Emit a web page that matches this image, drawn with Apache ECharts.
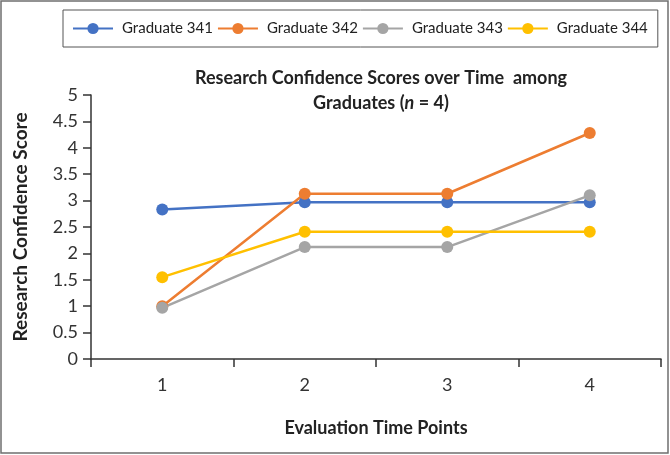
<!DOCTYPE html>
<html><head><meta charset="utf-8">
<script src="https://cdn.jsdelivr.net/npm/echarts@6/dist/echarts.min.js"></script>
<style>html,body{margin:0;padding:0;background:#fff}#c{width:670px;height:455px}</style>
</head><body><div id="c"></div>
<script>
const categories = ['1', '2', '3', '4'];
const grad341 = [2.83, 2.97, 2.97, 2.97];
const grad342 = [1.0, 3.13, 3.13, 4.28];
const grad343 = [0.97, 2.12, 2.12, 3.1];
const grad344 = [1.55, 2.41, 2.41, 2.41];
const seriesNames = ['Graduate 341', 'Graduate 342', 'Graduate 343', 'Graduate 344'];
const colors = ['#4472C4', '#ED7D31', '#A5A5A5', '#FFC000'];
const yTicks = ['0','0.5','1','1.5','2','2.5','3','3.5','4','4.5','5'];

const FONT = 'Lato, "Open Sans", sans-serif';
const chart = echarts.init(document.getElementById('c'));
const dataSets = [grad341, grad342, grad343, grad344];
chart.setOption({
  animation: false,
  textStyle: { fontFamily: FONT },
  color: colors,
  title: {
    text: 'Research Confidence Scores over Time  among\n{b|Graduates (}{i|n}{b| = 4)}',
    left: 376, textAlign: 'center', top: 61,
    textStyle: {
      fontFamily: FONT, fontSize: 18, fontWeight: 'bold', color: '#222', lineHeight: 25,
      rich: {
        b: { fontFamily: FONT, fontSize: 18, fontWeight: 'bold', color: '#222', lineHeight: 25 },
        i: { fontFamily: FONT, fontSize: 18, fontWeight: 'bold', fontStyle: 'italic', color: '#222', lineHeight: 25 }
      }
    }
  },
  legend: {
    left: 63, top: 10, width: 599, height: 38,
    padding: [11, 10, 11, 9],
    borderColor: '#555', borderWidth: 1,
    itemWidth: 40, itemHeight: 14, itemGap: 4,
    textStyle: { fontFamily: FONT, fontSize: 15, color: '#222', padding: [0, 0, 0, 4] },
    data: seriesNames
  },
  grid: { left: 91, right: 9, top: 95, bottom: 96, containLabel: false },
  xAxis: {
    type: 'category', data: categories, boundaryGap: true,
    name: 'Evaluation Time Points', nameLocation: 'middle', nameGap: 60,
    nameTextStyle: { fontFamily: FONT, fontSize: 18, fontWeight: 'bold', color: '#222' },
    axisLine: { lineStyle: { color: '#333', width: 1.5 } },
    axisTick: { show: true, alignWithLabel: false, length: 8, lineStyle: { color: '#333', width: 1.5 } },
    axisLabel: { fontFamily: FONT, fontSize: 18, color: '#333', margin: 17 }
  },
  yAxis: {
    type: 'value', min: 0, max: 5, interval: 0.5,
    name: 'Research Confidence Score', nameLocation: 'middle', nameGap: 61, nameRotate: 90,
    nameTextStyle: { fontFamily: FONT, fontSize: 19, fontWeight: 'bold', color: '#222' },
    axisLine: { show: true, lineStyle: { color: '#333', width: 1.5 } },
    axisTick: { show: true, length: 8, lineStyle: { color: '#333', width: 1.5 } },
    splitLine: { show: false },
    axisLabel: { fontFamily: FONT, fontSize: 18, color: '#333', margin: 13,
      formatter: v => yTicks[Math.round(v * 2)] }
  },
  graphic: [{
    type: 'rect', shape: { x: 1, y: 1, width: 667, height: 452 },
    style: { fill: 'none', stroke: '#6f6f6f', lineWidth: 1.5 }, silent: true, z: -1
  }],
  series: seriesNames.map((n, i) => ({
    name: n, type: 'line', data: dataSets[i],
    symbol: 'circle', symbolSize: 12,
    lineStyle: { width: 2.5, color: colors[i] },
    itemStyle: { color: colors[i] }
  }))
});
</script></body></html>
